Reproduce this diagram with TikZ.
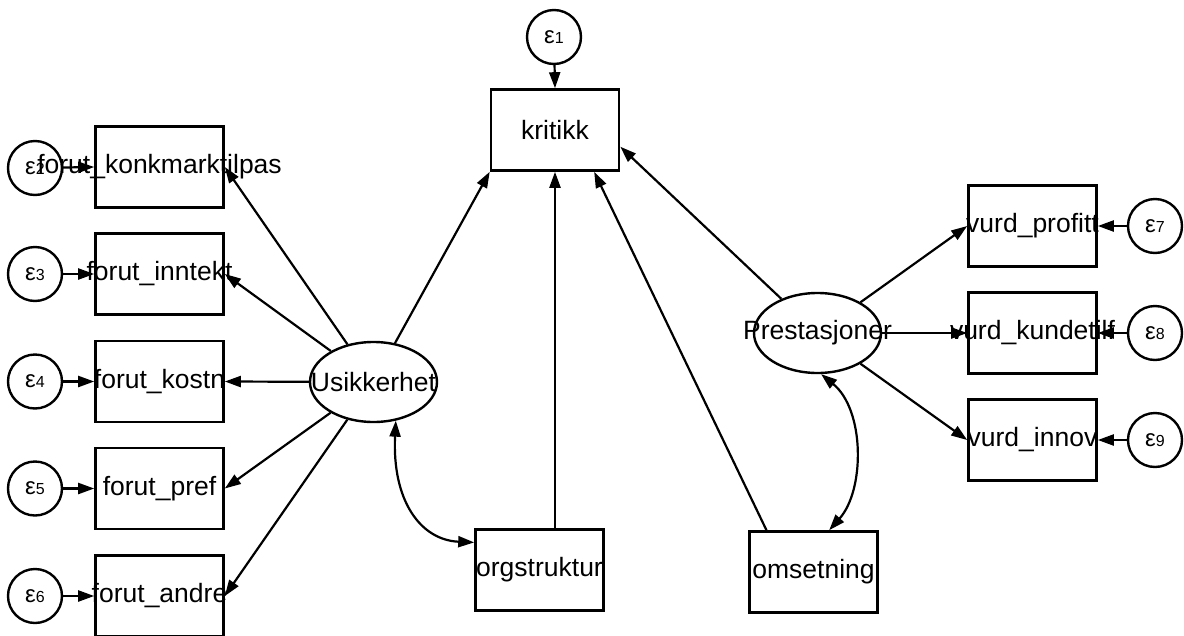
\documentclass[tikz,border=0pt]{standalone}
\usepackage{fontspec}
\setmainfont{Liberation Sans}
\usetikzlibrary{arrows.meta,shapes.geometric,calc}
\newcommand{\eps}[1]{{\fontsize{24}{24}\selectfont ε}{\fontsize{16}{16}\selectfont #1}}
\newcommand{\lbl}[1]{\makebox[0pt]{#1}}
\begin{document}
\begin{tikzpicture}[x=1pt,y=-1pt,line width=2.2pt,
  obs/.style={draw,rectangle,line width=2.6pt,minimum width=128pt,minimum height=81pt,inner sep=0pt,font=\fontsize{26.5}{30}\selectfont},
  lat/.style={draw,ellipse,line width=2.4pt,minimum width=127pt,minimum height=80pt,inner sep=0pt,font=\fontsize{26.5}{30}\selectfont},
  err/.style={draw,circle,line width=2.4pt,minimum size=54pt,inner sep=0pt},
  arr/.style={-{Triangle[length=16pt,width=11pt]}},
  dbl/.style={{Triangle[length=16pt,width=11pt]}-{Triangle[length=16pt,width=11pt]}}]
\clip (0,0) rectangle (1184,635);
\fill[white] (0,0) rectangle (1184,635);
% observed boxes
\node[obs] (K) at (555,130) {\lbl{kritikk}};
\node[obs] (B1) at (159.5,167) {\lbl{forut\_konkmarktilpas}};
\node[obs] (B2) at (159.5,274) {\lbl{forut\_inntekt}};
\node[obs] (B3) at (159.5,381.5) {\lbl{forut\_kostn}};
\node[obs] (B4) at (159.5,488.5) {\lbl{forut\_pref}};
\node[obs] (B5) at (159.5,596) {\lbl{forut\_andre}};
\node[obs] (R1) at (1032.5,226) {\lbl{vurd\_profitt}};
\node[obs] (R2) at (1032.5,333) {\lbl{vurd\_kundetilf}};
\node[obs] (R3) at (1032.5,440) {\lbl{vurd\_innov}};
\node[obs] (O) at (539.5,570) {\lbl{orgstruktur}};
\node[obs] (M) at (813.5,572) {\lbl{omsetning}};
% latent
\node[lat] (U) at (373.5,382) {\lbl{Usikkerhet}};
\node[lat] (P) at (817.5,333) {\lbl{Prestasjoner}};
% errors
\node[err] (e1) at (554,37) {\eps{1}};
\node[err] (e2) at (35,168) {\eps{2}};
\node[err] (e3) at (35,274) {\eps{3}};
\node[err] (e4) at (35,381.5) {\eps{4}};
\node[err] (e5) at (35,488.5) {\eps{5}};
\node[err] (e6) at (35,596) {\eps{6}};
\node[err] (e7) at (1155,226) {\eps{7}};
\node[err] (e8) at (1155,333) {\eps{8}};
\node[err] (e9) at (1155,440) {\eps{9}};
% error arrows
\draw[arr] (e1) -- (K.north);
\draw[arr] (e2) -- (B1.west);
\draw[arr] (e3) -- (B2.west);
\draw[arr] (e4) -- (B3.west);
\draw[arr] (e5) -- (B4.west);
\draw[arr] (e6) -- (B5.west);
\draw[arr] (e7) -- (R1.east);
\draw[arr] (e8) -- (R2.east);
\draw[arr] (e9) -- (R3.east);
% loadings
\draw[arr] (U) -- (B1.east);
\draw[arr] (U) -- (B2.east);
\draw[arr] (U) -- (B3.east);
\draw[arr] (U) -- (B4.east);
\draw[arr] (U) -- (B5.east);
\draw[arr] (P) -- (R1.west);
\draw[arr] (P) -- (R2.west);
\draw[arr] (P) -- (R3.west);
% structural
\draw[arr] (U) -- (K.south west);
\draw[arr] (O.north -| K.south) -- (K.south);
\draw[arr] ($(M.north west)!0.14!(M.north east)$) -- ($(K.south west)!0.8!(K.south east)$);
\draw[arr] (P) -- ($(K.north east)!0.7!(K.south east)$);
% covariances
\draw[dbl] (U.-60) .. controls (392,500) and (420,540) .. ($(O.north west)!0.17!(O.south west)$);
\draw[dbl] (P.-85) .. controls (865,410) and (865,490) .. ($(M.north west)!0.62!(M.north east)$);
\end{tikzpicture}
\end{document}
